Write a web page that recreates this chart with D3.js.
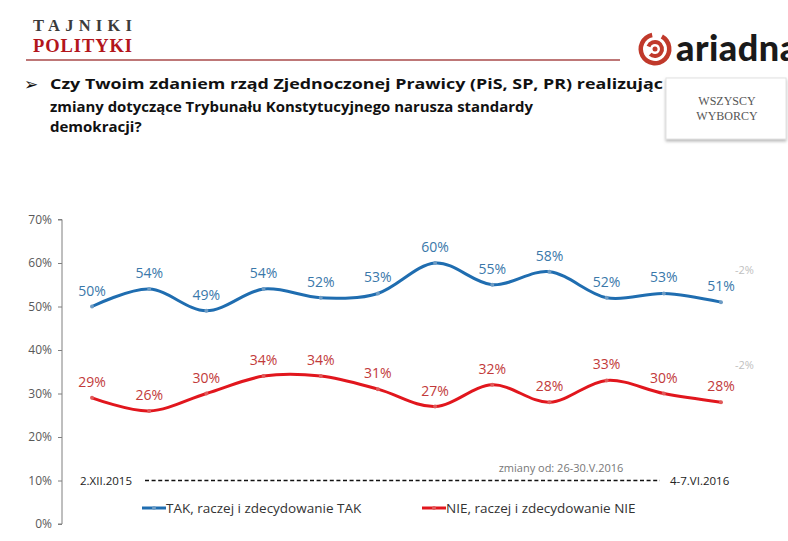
<!DOCTYPE html>
<html><head><meta charset="utf-8">
<script src="https://cdn.jsdelivr.net/npm/d3@7"></script>
<style>body{margin:0;background:#fff;}svg{display:block;}</style>
</head><body>
<script>
const waves = ["1","2","3","4","5","6","7","8","9","10","11","12"];
const takValues = [50,54,49,54,52,53,60,55,58,52,53,51];
const nieValues = [29,26,30,34,34,31,27,32,28,33,30,28];
const yTicks = [0,10,20,30,40,50,60,70];
const seriesNames = ["TAK, raczej i zdecydowanie TAK","NIE, raczej i zdecydowanie NIE"];
const changeLabels = ["-2%","-2%"];
const startDate = "2.XII.2015", endDate = "4-7.VI.2016", changeNote = "zmiany od: 26-30.V.2016";
const questionLines = ["Czy Twoim zdaniem rząd Zjednoczonej Prawicy (PiS, SP, PR) realizując",
  "zmiany dotyczące Trybunału  Konstytucyjnego  narusza  standardy","demokracji?"];

const W=788,H=541;
const svg=d3.select("body").append("svg").attr("width",W).attr("height",H);
const F="'Open Sans', 'Noto Sans', sans-serif";

// header
svg.append("text").attr("x",33).attr("y",31).text("TAJNIKI")
  .attr("font-family","'Liberation Serif', serif").attr("font-weight","bold").attr("font-size",16.5)
  .attr("fill","#3b3b3b").attr("textLength",99).attr("lengthAdjust","spacing");
svg.append("text").attr("x",33).attr("y",52).text("POLITYKI")
  .attr("font-family","'Liberation Serif', serif").attr("font-weight","bold").attr("font-size",18.5)
  .attr("fill","#b3161c").attr("textLength",99).attr("lengthAdjust","spacing");
svg.append("line").attr("x1",26).attr("x2",620).attr("y1",60).attr("y2",60).attr("stroke","#a84a4a").attr("stroke-width",1.6);

// ariadna logo
const lg=svg.append("g");
lg.append("path").attr("d",d3.arc()({innerRadius:12,outerRadius:16.5,startAngle:0.5,endAngle:2*Math.PI-0.2})).attr("transform","translate(655,49)").attr("fill","#c0392b");
lg.append("path").attr("d",d3.arc()({innerRadius:5,outerRadius:9,startAngle:-1.2,endAngle:3.9})).attr("transform","translate(655,49)").attr("fill","#c0392b");
lg.append("circle").attr("cx",655).attr("cy",49).attr("r",2.5).attr("fill","#c0392b");
svg.append("text").attr("x",676).attr("y",61).text("ariadna").attr("font-family","Lato, sans-serif")
  .attr("font-weight",900).attr("font-size",36).attr("fill","#1a1a1a").attr("letter-spacing",0.5);

// box
const defs=svg.append("defs");
const flt=defs.append("filter").attr("id","sh").attr("x","-10%").attr("y","-10%").attr("width","130%").attr("height","140%");
flt.append("feDropShadow").attr("dx",0).attr("dy",2).attr("stdDeviation",1.5).attr("flood-color","#888").attr("flood-opacity",0.6);
svg.append("rect").attr("x",666).attr("y",78).attr("width",120).attr("height",61).attr("fill","#fff").attr("stroke","#e2e2e2").attr("filter","url(#sh)");
svg.append("text").attr("x",727).attr("y",105).attr("text-anchor","middle").text("WSZYSCY").attr("font-family","'Liberation Serif', serif").attr("font-size",12).attr("fill","#555");
svg.append("text").attr("x",727).attr("y",120).attr("text-anchor","middle").text("WYBORCY").attr("font-family","'Liberation Serif', serif").attr("font-size",12).attr("fill","#555");

// question
svg.append("text").attr("x",24).attr("y",90).text("➢").attr("font-family","'DejaVu Sans', sans-serif").attr("font-size",17).attr("fill","#111");
const qy=[89,112,132], ql=[613,483,null];
questionLines.forEach((t,i)=>{
  const tx=svg.append("text").attr("x",50).attr("y",qy[i]).text(t).attr("font-family",F).attr("font-weight","bold").attr("font-size",15).attr("fill","#111");
  if(ql[i]) tx.attr("textLength",ql[i]).attr("lengthAdjust","spacingAndGlyphs");
});

// scales
const x=d3.scalePoint().domain(waves).range([92,721]);
const y=d3.scaleLinear().domain([0,70]).range([524,219.5]);

// axis
const ax=svg.append("g").attr("transform","translate(62,0)")
  .call(d3.axisLeft(y).tickValues(yTicks).tickSize(4).tickPadding(6).tickFormat(d=>d+"%"));
ax.selectAll("path,line").attr("stroke","#7f7f7f");
ax.select(".domain").attr("d","M-4,"+y(0)+"H0V"+y(70)+"H-4");
ax.selectAll("text").attr("font-family",F).attr("font-size",12).attr("fill","#595959");

const line=d3.line().x((d,i)=>x(waves[i])).y(d=>y(d)).curve(d3.curveCardinal.tension(0));
const series=[{vals:takValues,color:"#1f6db0",lab:"#3a78aa",dot:"#6e9cc4"},{vals:nieValues,color:"#e1161d",lab:"#c23a3a",dot:"#e05a5a"}];
series.forEach(s=>{
  svg.append("path").attr("d",line(s.vals)).attr("fill","none").attr("stroke",s.color).attr("stroke-width",3);
  svg.selectAll(null).data(s.vals).enter().append("circle").attr("cx",(d,i)=>x(waves[i])).attr("cy",d=>y(d)).attr("r",2).attr("fill",s.dot);
  svg.selectAll(null).data(s.vals).enter().append("text").attr("x",(d,i)=>x(waves[i])).attr("y",d=>y(d)-11)
    .attr("text-anchor","middle").text(d=>d+"%").attr("font-family",F).attr("font-size",14).attr("fill",s.lab);
});

// change labels
svg.append("text").attr("x",735).attr("y",274).text(changeLabels[0]).attr("font-family",F).attr("font-size",11).attr("fill","#c0c0c0");
svg.append("text").attr("x",735).attr("y",369).text(changeLabels[1]).attr("font-family",F).attr("font-size",11).attr("fill","#c0c0c0");

// date line
const dy=y(10);
svg.append("line").attr("x1",145).attr("x2",660).attr("y1",dy).attr("y2",dy).attr("stroke","#111").attr("stroke-width",1.3).attr("stroke-dasharray","4,2.6");
svg.append("text").attr("x",80).attr("y",dy+4.5).text(startDate).attr("font-family",F).attr("font-size",11.5).attr("fill","#222");
svg.append("text").attr("x",670).attr("y",dy+4.5).text(endDate).attr("font-family",F).attr("font-size",11.5).attr("fill","#222");
svg.append("text").attr("x",561).attr("y",472).attr("text-anchor","middle").text(changeNote).attr("font-family",F).attr("font-size",11).attr("fill","#777");

// legend
const legX=[142,422];
seriesNames.forEach((n,i)=>{
  svg.append("line").attr("x1",legX[i]).attr("x2",legX[i]+24).attr("y1",508).attr("y2",508).attr("stroke",series[i].color).attr("stroke-width",3);
  svg.append("circle").attr("cx",legX[i]+12).attr("cy",508).attr("r",2).attr("fill",series[i].dot);
  svg.append("text").attr("x",legX[i]+24).attr("y",513).text(n).attr("font-family",F).attr("font-size",13.5).attr("fill","#333");
});
</script>
</body></html>
